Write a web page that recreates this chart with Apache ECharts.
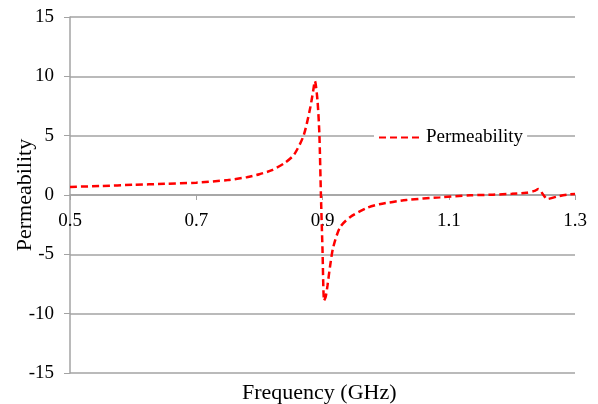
<!DOCTYPE html>
<html>
<head>
<meta charset="utf-8">
<script src="https://cdn.jsdelivr.net/npm/echarts@6/dist/echarts.min.js"></script>
<style>
  html, body { margin: 0; padding: 0; background: #fff; }
  #chart { width: 598px; height: 404px; }
</style>
</head>
<body>
<div id="chart"></div>
<script>
// frequency (GHz) and permeability
const freq = [0.5, 0.55, 0.6, 0.65, 0.7, 0.75, 0.78, 0.8, 0.82, 0.84, 0.855, 0.87, 0.88, 0.885, 0.888, 0.892, 0.895, 0.8975, 0.9, 0.9025, 0.905, 0.908, 0.912, 0.917, 0.928, 0.944, 0.97, 0.99, 1.033, 1.086, 1.134, 1.17, 1.2, 1.223, 1.236, 1.242, 1.25, 1.256, 1.271, 1.292, 1.3]
const permeability = [0.68, 0.76, 0.86, 0.94, 1.04, 1.26, 1.5, 1.75, 2.1, 2.7, 3.4, 5.0, 7.2, 8.7, 9.6, 8.0, 5.2, 0.0, -4.6, -8.9, -8.6, -7.6, -6.0, -4.4, -2.7, -1.85, -1.1, -0.78, -0.42, -0.2, -0.03, 0.03, 0.1, 0.19, 0.35, 0.5, 0.0, -0.34, -0.14, 0.06, 0.08]
const xTicks = [0.5, 0.7, 0.9, 1.1, 1.3]
const yRange = [-15, 15]
const yStep = 5

const font = 'Liberation Serif'
const axisGray = '#a3a3a3'

// plot box, px
const gridTop = 17
const gridBottom = 31
const plotH = 404 - gridTop - gridBottom
// x axis sits on y = 0, so lift it from the bottom edge
const zeroLift = plotH * (0 - yRange[0]) / (yRange[1] - yRange[0])

const chart = echarts.init(document.getElementById('chart'))
chart.setOption({
    animation: false,
    textStyle: { fontFamily: font },
    title: {
        text: 'Frequency (GHz)',
        left: 242,
        top: 382,
        padding: 0,
        textStyle: { fontFamily: font, fontSize: 22, fontWeight: 'normal', color: '#000' }
    },
    grid: { left: 70, right: 23, top: gridTop, bottom: gridBottom, outerBoundsMode: 'none', containLabel: false },
    legend: {
        data: ['Permeability'],
        left: 374,
        top: 126,
        backgroundColor: '#fff',
        padding: [2, 4, 2, 4],
        itemWidth: 42,
        itemHeight: 12,
        itemGap: 4,
        itemStyle: { opacity: 0, borderWidth: 0 },
        textStyle: { fontFamily: font, fontSize: 19, color: '#000' }
    },
    xAxis: {
        type: 'value',
        position: 'bottom',
        offset: -zeroLift,
        min: 0.5,
        max: 1.3,
        axisLine: { onZero: false, lineStyle: { color: axisGray, width: 1.5 } },
        axisTick: { show: true, length: 5, inside: false, customValues: xTicks, lineStyle: { color: axisGray } },
        axisLabel: {
            customValues: xTicks,
            margin: 17,
            fontSize: 19,
            color: '#000',
            fontFamily: font,
            formatter: v => v.toFixed(1)
        },
        splitLine: { show: false }
    },
    yAxis: {
        type: 'value',
        min: yRange[0],
        max: yRange[1],
        interval: yStep,
        name: 'Permeability',
        nameLocation: 'middle',
        nameGap: 34,
        nameMoveOverlap: false,
        nameTextStyle: { fontFamily: font, fontSize: 22, color: '#000' },
        axisLine: { show: true, lineStyle: { color: axisGray, width: 1.5 } },
        axisTick: { show: true, length: 6, lineStyle: { color: axisGray } },
        axisLabel: { margin: 16, fontSize: 19, color: '#000', fontFamily: font },
        splitLine: { show: true, lineStyle: { color: axisGray, width: 1.5 } }
    },
    series: [
        {
            name: 'Permeability',
            type: 'line',
            data: freq.map((f, i) => [f, permeability[i]]),
            smooth: 0.25,
            showSymbol: false,
            symbol: 'none',
            lineStyle: { color: '#ff0000', width: 2.5, type: [7, 4] },
            itemStyle: { color: '#ff0000' }
        }
    ]
})
</script>
</body>
</html>
